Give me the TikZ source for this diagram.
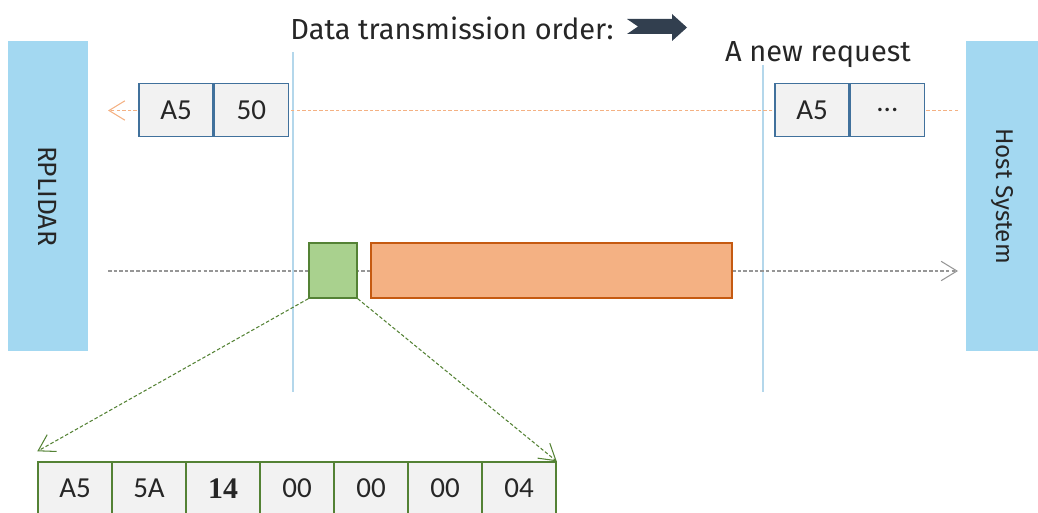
\documentclass[tikz,border=0pt]{standalone}
\usepackage{fontspec}
\setmainfont{Fira Sans}
\newfontfamily\cellfont{Carlito}
\newfontfamily\numfont{Liberation Serif}
\usepackage{tikz}
\usetikzlibrary{arrows.meta,positioning}
\usepackage{xcolor}
\definecolor{rpblue}{RGB}{163,216,241}
\definecolor{rpguide}{RGB}{180,215,235}
\definecolor{rptext}{RGB}{38,38,38}
\definecolor{rpdark}{RGB}{50,63,79}
\definecolor{rpgray}{RGB}{242,242,242}
\definecolor{rpcellblue}{RGB}{65,113,156}
\definecolor{rporange}{RGB}{244,177,131}
\definecolor{rporangedark}{RGB}{197,90,17}
\definecolor{rpgreen}{RGB}{84,130,53}
\definecolor{rplightgreen}{RGB}{169,209,142}
\definecolor{rpline}{RGB}{150,150,150}
\tikzstyle{device} = [rectangle, fill=rpblue, rotate=-90, minimum width=6.2cm, inner sep=0pt, text=rptext]
\tikzstyle{cmdcell} = [rectangle, draw=rpcellblue, fill=rpgray, line width=0.8pt, minimum width=1.48cm, minimum height=1.06cm, inner sep=0pt, text=rptext, font=\cellfont\fontsize{16.5}{19}\selectfont]
\tikzstyle{respcell} = [cmdcell, draw=rpgreen]
\tikzstyle{flow} = [line width=0.6pt, dash pattern=on 2pt off 1.2pt]
\tikzstyle{barb} = [-{Straight Barb[length=9pt,width=11pt]}]
\tikzstyle{guide} = [rpguide, line width=0.6pt]
\tikzstyle{label} = [text=rptext, font=\fontsize{16.5}{19}\selectfont]

\begin{document}
\begin{tikzpicture}
    \useasboundingbox (0,0) rectangle (20.76,10.24);
    \clip (0,0) rectangle (20.76,10.24);

    \node[device, minimum height=1.6cm, font=\fontsize{15}{18}\selectfont] (lidar) at (0.96,6.32) {RPLIDAR};
    \node[device, minimum height=1.44cm, font=\fontsize{13.8}{17}\selectfont] (host) at (20.04,6.32) {Host System};

    \node[label] (title) at (9.04,9.68) {Data transmission order:};
    \fill[rpdark] (12.54,9.86) -- (13.44,9.86) -- (13.44,9.96) -- (13.74,9.69) -- (13.44,9.42)
        -- (13.44,9.56) -- (12.54,9.56) -- (12.76,9.71) -- cycle;

    \coordinate (slotAtop) at (5.86,9.2);
    \coordinate (slotAbot) at (5.86,2.4);
    \coordinate (slotBtop) at (15.26,8.94);
    \coordinate (slotBbot) at (15.26,2.4);
    \draw[guide] (slotAtop) -- (slotAbot);
    \draw[guide] (slotBtop) -- (slotBbot);
    \node[label] (newreq) at (16.36,9.14) {A new request};

    % request line
    \coordinate (reqfrom) at (19.16,8.03);
    \coordinate (reqto) at (2.16,8.03);
    \draw[flow, rporange, barb] (reqfrom) -- (reqto);
    \node[cmdcell] (reqA) at (3.52,8.04) {A5};
    \node[cmdcell, right=0pt of reqA] (reqB) {50};
    \node[cmdcell] (nextA) at (16.24,8.04) {A5};
    \node[cmdcell, right=0pt of nextA] (nextB) {...};

    % response line
    \coordinate (respfrom) at (2.16,4.82);
    \coordinate (respto) at (19.16,4.82);
    \draw[flow, rpline, barb] (respfrom) -- (respto);
    \node[rectangle, draw=rpgreen, fill=rplightgreen, line width=0.8pt, minimum width=0.96cm, minimum height=1.1cm] (head) at (6.66,4.83) {};
    \node[rectangle, draw=rporangedark, fill=rporange, line width=0.8pt, minimum width=7.22cm, minimum height=1.1cm] (body) at (11.03,4.83) {};

    \foreach \val [count=\i] in {A5,5A,{\numfont\bfseries\fontsize{17}{19}\selectfont 14},00,00,00,04}
        \node[respcell] (resp\i) at ({1.50+(\i-1)*1.48},0.47) {\val};

    \draw[flow, rpgreen, barb] (head.south west) -- ([yshift=0.2cm]resp1.north west);
    \draw[flow, rpgreen, barb] (head.south east) -- (resp7.north east);
\end{tikzpicture}
\end{document}
